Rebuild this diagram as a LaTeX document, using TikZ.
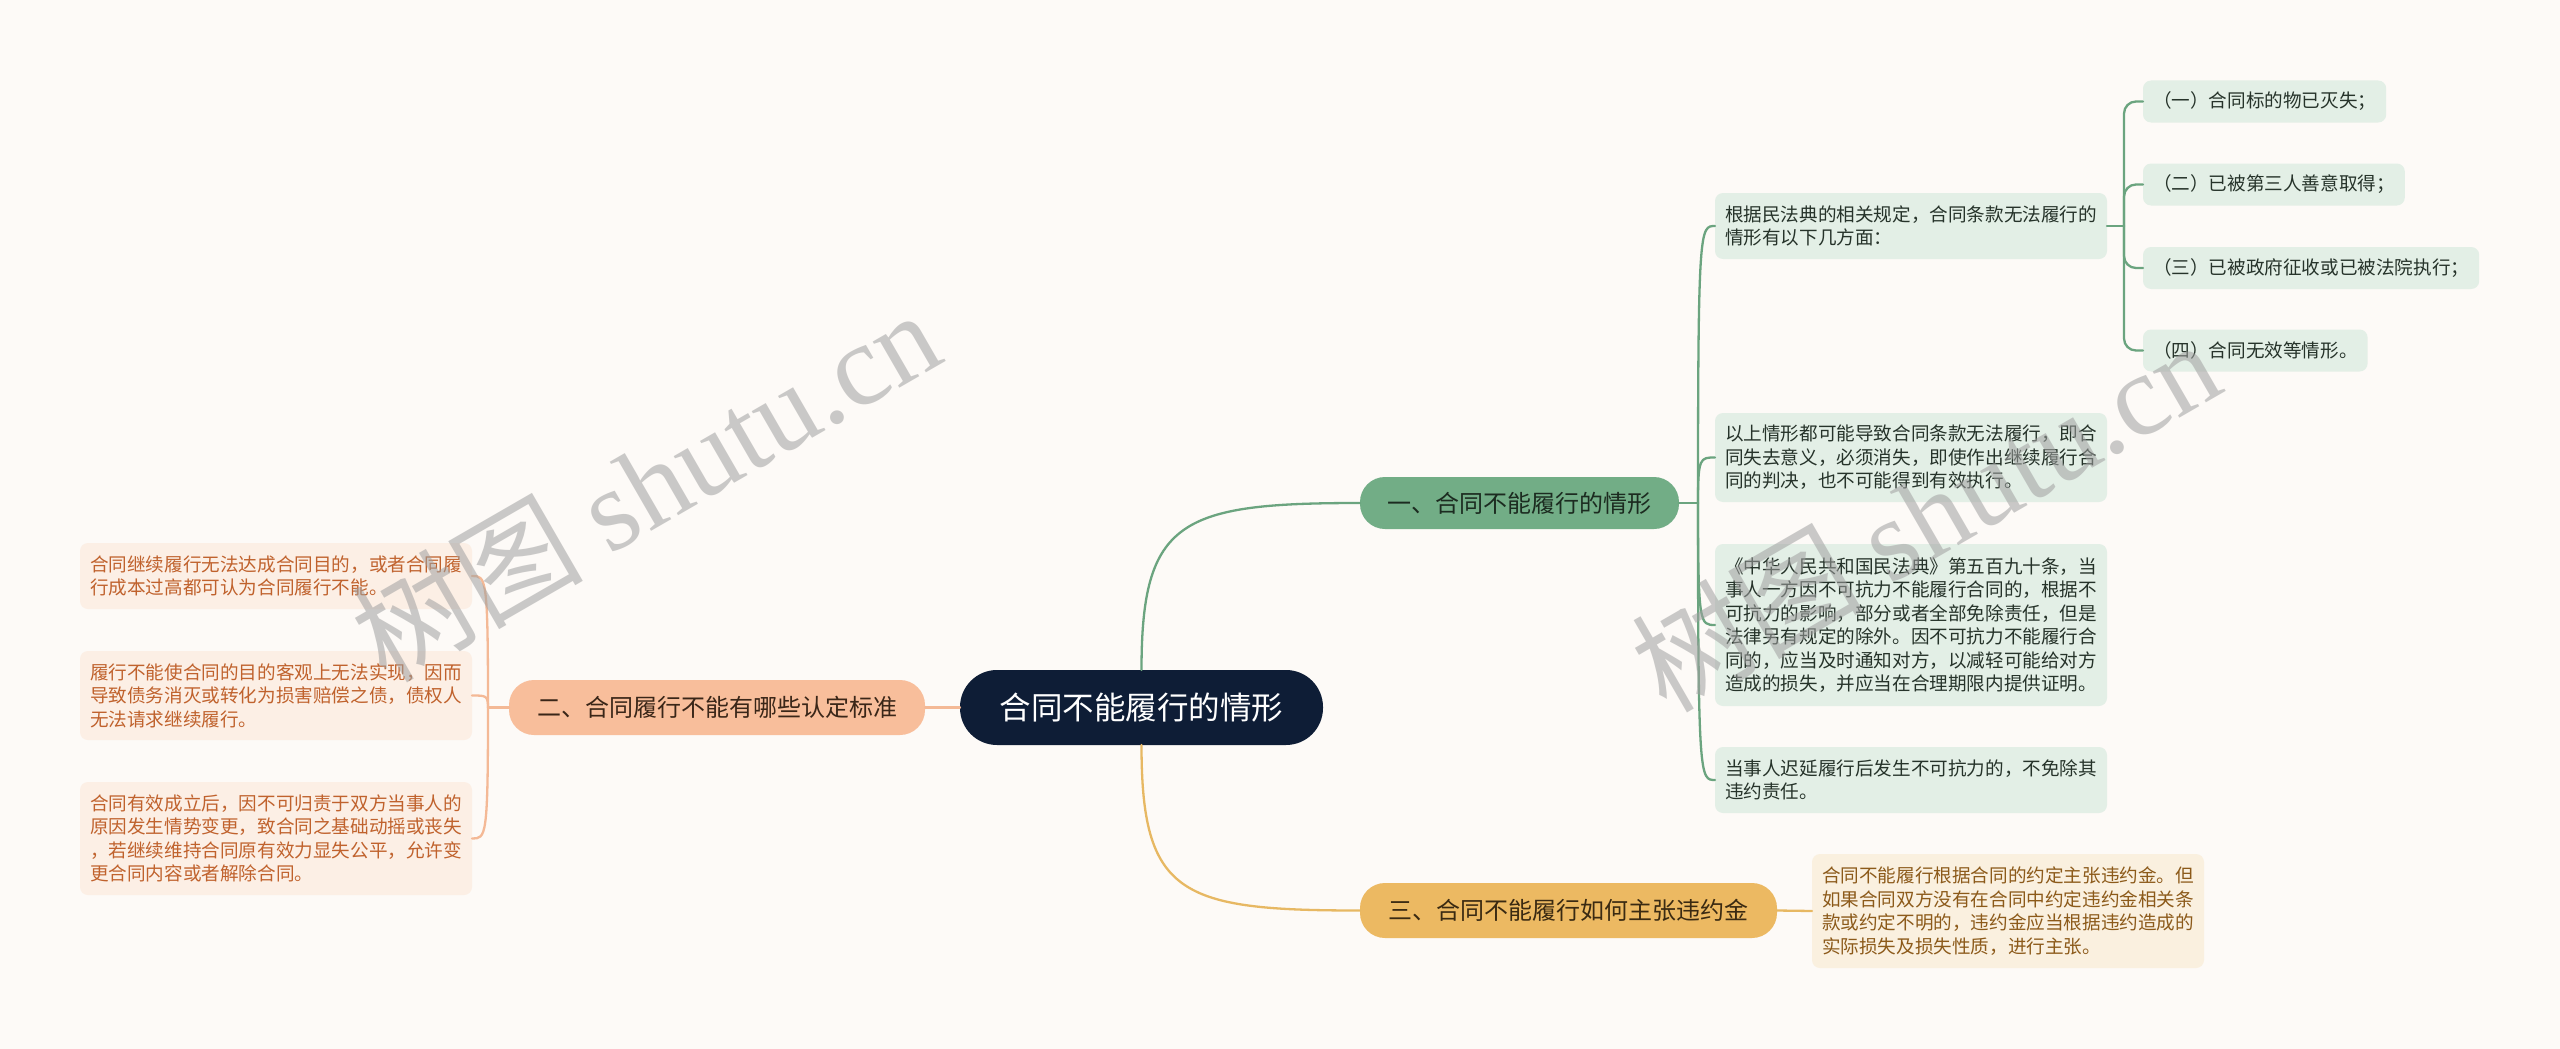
\documentclass[tikz,border=0pt]{standalone}
\usepackage{fontspec}
\setmainfont{Noto Sans CJK SC}
\newfontfamily\wmlatin{Liberation Serif}
\definecolor{bg}{HTML}{FDFAF7}
\definecolor{rootc}{HTML}{0E1D36}
\definecolor{bonec}{HTML}{72AD86}
\definecolor{bonet}{HTML}{1C2B20}
\definecolor{btwoc}{HTML}{F8BE9B}
\definecolor{btwot}{HTML}{3A2618}
\definecolor{bthreec}{HTML}{ECB962}
\definecolor{bthreet}{HTML}{3A2A12}
\definecolor{gfill}{HTML}{E3EFE6}
\definecolor{gtext}{HTML}{26332A}
\definecolor{pfill}{HTML}{FCEFE5}
\definecolor{ptext}{HTML}{C0622D}
\definecolor{yfill}{HTML}{FAF0DF}
\definecolor{ytext}{HTML}{8C5A1A}
\definecolor{gline}{HTML}{6BA47F}
\definecolor{pline}{HTML}{F4B996}
\definecolor{yline}{HTML}{E7B863}
\definecolor{wmc}{HTML}{A0A0A0}
\begin{document}
\begin{tikzpicture}[x=1pt,y=-1pt,
  every node/.style={inner sep=0pt, outer sep=0pt},
  conn/.style={line width=2.3pt, line cap=round},
  rootbox/.style={fill=rootc, rounded corners=37pt, text=white,
    font=\fontsize{31.5}{36}\selectfont, minimum width=363pt, minimum height=75pt},
  brbox/.style={rounded corners=25pt, font=\fontsize{24}{28}\selectfont},
  leaf/.style={rounded corners=8pt, font=\fontsize{18.6}{23.5}\selectfont,
    inner xsep=10pt, inner ysep=3pt, align=left},
  gleaf/.style={leaf, fill=gfill, text=gtext},
  pleaf/.style={leaf, fill=pfill, text=ptext},
  yleaf/.style={leaf, fill=yfill, text=ytext},
  wm/.style={text=wmc, text opacity=0.55, font=\fontsize{116}{120}\selectfont}
]
\fill[bg] (0,0) rectangle (2560,1049);
\useasboundingbox (0,0) rectangle (2560,1049);

% main nodes
\node[rootbox] (root) at (1141.5,707.5) {合同不能履行的情形};
\node[brbox, fill=bonec, text=bonet, minimum width=319pt, minimum height=52pt] (b1) at (1519.5,503) {一、合同不能履行的情形};
\node[brbox, fill=btwoc, text=btwot, minimum width=416pt, minimum height=55pt] (b2) at (717,707.5) {二、合同履行不能有哪些认定标准};
\node[brbox, fill=bthreec, text=bthreet, minimum width=417pt, minimum height=55pt] (b3) at (1568.5,910.5) {三、合同不能履行如何主张违约金};

% branch 1 children
\node[gleaf, anchor=west, minimum width=392pt, minimum height=66pt] (c1) at (1715,226)
  {根据民法典的相关规定，合同条款无法履行的\\情形有以下几方面：};
\node[gleaf, anchor=west, minimum width=392pt, minimum height=89pt] (c2) at (1715,457.5)
  {以上情形都可能导致合同条款无法履行，即合\\同失去意义，必须消失，即使作出继续履行合\\同的判决，也不可能得到有效执行。};
\node[gleaf, anchor=west, minimum width=392pt, minimum height=162pt] (c3) at (1715,625)
  {《中华人民共和国民法典》第五百九十条，当\\事人一方因不可抗力不能履行合同的，根据不\\可抗力的影响，部分或者全部免除责任，但是\\法律另有规定的除外。因不可抗力不能履行合\\同的，应当及时通知对方，以减轻可能给对方\\造成的损失，并应当在合理期限内提供证明。};
\node[gleaf, anchor=west, minimum width=392pt, minimum height=66pt] (c4) at (1715,780)
  {当事人迟延履行后发生不可抗力的，不免除其\\违约责任。};

% sub-children of c1
\node[gleaf, anchor=west, minimum height=42pt] (s1) at (2143,101.5) {（一）合同标的物已灭失；};
\node[gleaf, anchor=west, minimum height=42pt] (s2) at (2143,184.5) {（二）已被第三人善意取得；};
\node[gleaf, anchor=west, minimum height=42pt] (s3) at (2143,268) {（三）已被政府征收或已被法院执行；};
\node[gleaf, anchor=west, minimum height=42pt] (s4) at (2143,350.5) {（四）合同无效等情形。};

% branch 2 children
\node[pleaf, anchor=east, minimum width=391pt, minimum height=66pt] (l1) at (472,576)
  {合同继续履行无法达成合同目的，或者合同履\\行成本过高都可认为合同履行不能。};
\node[pleaf, anchor=east, minimum width=391pt, minimum height=89pt] (l2) at (472,695.5)
  {履行不能使合同的目的客观上无法实现，因而\\导致债务消灭或转化为损害赔偿之债，债权人\\无法请求继续履行。};
\node[pleaf, anchor=east, minimum width=391pt, minimum height=113pt] (l3) at (472,838.5)
  {合同有效成立后，因不可归责于双方当事人的\\原因发生情势变更，致合同之基础动摇或丧失\\，若继续维持合同原有效力显失公平，允许变\\更合同内容或者解除合同。};

% branch 3 child
\node[yleaf, anchor=west, minimum width=391pt, minimum height=114pt] (r1) at (1812,911)
  {合同不能履行根据合同的约定主张违约金。但\\如果合同双方没有在合同中约定违约金相关条\\款或约定不明的，违约金应当根据违约造成的\\实际损失及损失性质，进行主张。};

% connectors root
\draw[conn, gline] (root.north) .. controls (1141.5,520) and (1180,503) .. (b1.west);
\draw[conn, yline] (root.south) .. controls (1141.5,895) and (1180,910.5) .. (b3.west);
\draw[conn, pline] (root.west) -- (b2.east);

% branch 1 connectors
\coordinate (j1) at (1698,503);
\draw[conn, gline] (b1.east) -- (j1);
\draw[conn, gline] (j1) .. controls (1698,226) and (1700,226) .. (c1.west);
\draw[conn, gline] (j1) .. controls (1698,457.5) and (1700,457.5) .. (c2.west);
\draw[conn, gline] (j1) .. controls (1698,625) and (1700,625) .. (c3.west);
\draw[conn, gline] (j1) .. controls (1698,780) and (1700,780) .. (c4.west);

% c1 connectors
\coordinate (j2) at (2124,226);
\draw[conn, gline] (c1.east) -- (j2);
\foreach \s in {s1,s2,s3,s4}{
  \draw[conn, gline, rounded corners=12pt] (j2) |- (\s.west);
}

% branch 2 connectors
\coordinate (j3) at (488,707.5);
\draw[conn, pline] (b2.west) -- (j3);
\draw[conn, pline] (j3) .. controls (488,576) and (486,576) .. (l1.east);
\draw[conn, pline] (j3) .. controls (488,695.5) and (486,695.5) .. (l2.east);
\draw[conn, pline] (j3) .. controls (488,838.5) and (486,838.5) .. (l3.east);

% branch 3 connector
\draw[conn, yline] (b3.east) -- (r1.west);

% watermarks
\node[wm, rotate=30] (wm1) at (645,484) {树图 {\wmlatin shutu.cn}};
\node[wm, rotate=30] (wm2) at (1925,514) {树图 {\wmlatin shutu.cn}};
\end{tikzpicture}
\end{document}
